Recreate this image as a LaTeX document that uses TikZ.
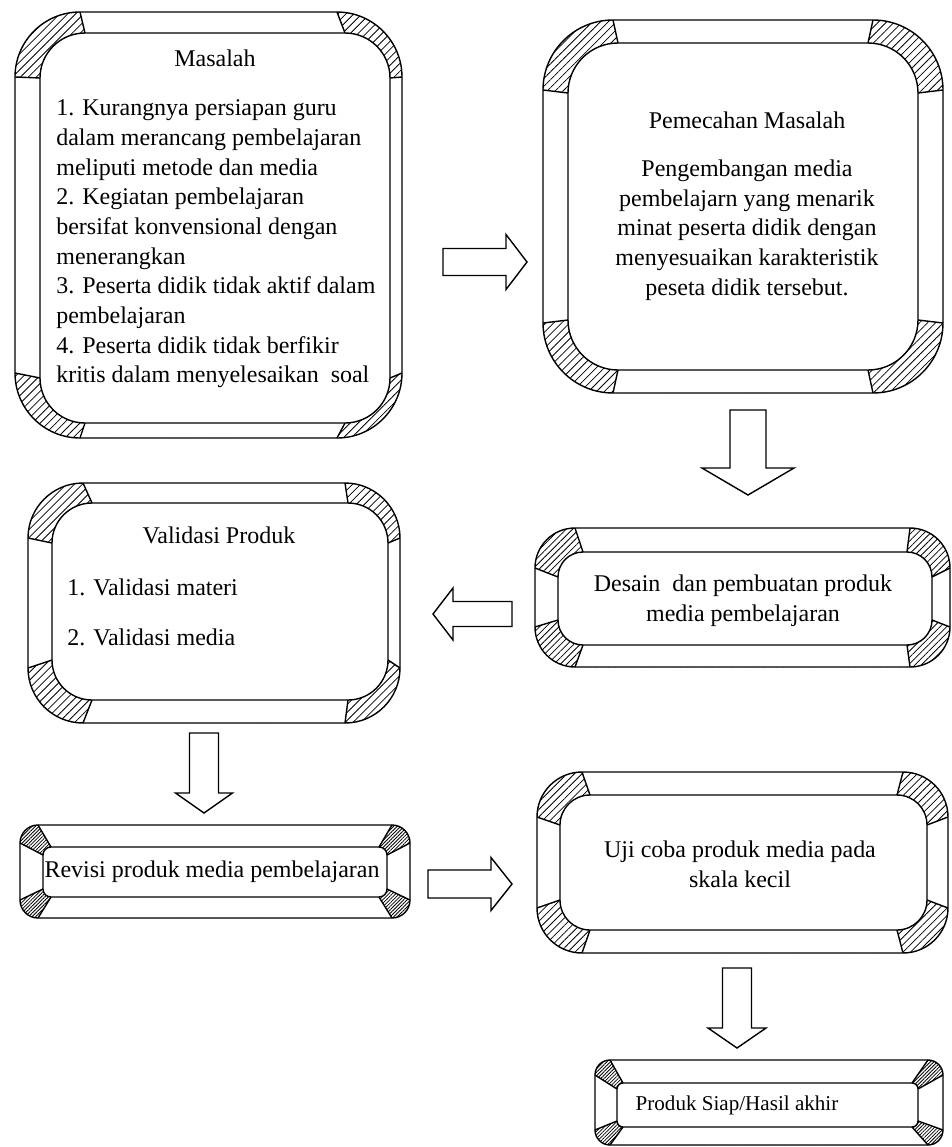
\documentclass[tikz,border=0pt]{standalone}
\usepackage{fontspec}
\setmainfont{Liberation Serif}
\usetikzlibrary{calc}
\usetikzlibrary{backgrounds}
\usetikzlibrary{patterns.meta}

\newcommand{\px}{0.02cm}
% bevel round a face node: #1 node, #2..#5 left/top/right/bottom rim, #6 outer radius, #7 inner radius, #8 hatch distance
\newcommand{\bevel}[8]{%
  \begin{pgfonlayer}{background}
    \coordinate (#1-nw) at ($(#1.north west)+(-#2,-#3)$);
    \coordinate (#1-se) at ($(#1.south east)+(#4,#5)$);
    \coordinate (#1-ne) at (#1-se |- #1-nw);
    \coordinate (#1-sw) at (#1-nw |- #1-se);
    \fill[pattern={Lines[angle=45,distance=#8,line width=0.45pt]}, rounded corners=#6*\px] (#1-nw) rectangle (#1-se);
    \fill[white] ($(#1-nw)+(#6,0)$) -- ($(#1-ne)+(-#6,0)$) -- ($(#1.north east)+(-#7,0)$) -- ($(#1.north west)+(#7,0)$) -- cycle
      ($(#1-ne)+(0,#6)$) -- ($(#1-se)+(0,-#6)$) -- ($(#1.south east)+(0,-#7)$) -- ($(#1.north east)+(0,#7)$) -- cycle
      ($(#1-se)+(-#6,0)$) -- ($(#1-sw)+(#6,0)$) -- ($(#1.south west)+(#7,0)$) -- ($(#1.south east)+(-#7,0)$) -- cycle
      ($(#1-sw)+(0,-#6)$) -- ($(#1-nw)+(0,#6)$) -- ($(#1.north west)+(0,#7)$) -- ($(#1.south west)+(0,-#7)$) -- cycle;
    \fill[white, rounded corners=#7*\px] (#1.north west) rectangle (#1.south east);
    \draw[bevelline] ($(#1-nw)+(#6,0)$) -- ($(#1.north west)+(#7,0)$)
      ($(#1-ne)+(-#6,0)$) -- ($(#1.north east)+(-#7,0)$)
      ($(#1-ne)+(0,#6)$) -- ($(#1.north east)+(0,#7)$)
      ($(#1-se)+(0,-#6)$) -- ($(#1.south east)+(0,-#7)$)
      ($(#1-se)+(-#6,0)$) -- ($(#1.south east)+(-#7,0)$)
      ($(#1-sw)+(#6,0)$) -- ($(#1.south west)+(#7,0)$)
      ($(#1-sw)+(0,-#6)$) -- ($(#1.south west)+(0,-#7)$)
      ($(#1-nw)+(0,#6)$) -- ($(#1.north west)+(0,#7)$);
    \draw[bevelline, rounded corners=#6*\px] (#1-nw) rectangle (#1-se);
  \end{pgfonlayer}}
% hollow block arrow: #1,#2 tail, #3 angle, #4 length, #5 shaft, #6 head width, #7 head length
\newcommand{\blockarrow}[7]{%
  \draw[blockarr, shift={(#1,#2)}, rotate=#3] (0,-#5/2) -- ({#4-#7},-#5/2) -- ({#4-#7},-#6/2)
    -- (#4,0) -- ({#4-#7},#6/2) -- ({#4-#7},#5/2) -- (0,#5/2) -- cycle;}

\tikzset{
  bevelline/.style={line width=0.8pt},
  bevelface/.style={draw, line width=0.8pt, outer sep=0pt, inner sep=0pt, rounded corners=#1*\px},
  blockarr/.style={draw, fill=white, line width=0.8pt, line join=miter},
  txt/.style={inner sep=0pt, font=\fontsize{13.65}{16.9}\selectfont},
  lst/.style={txt, align=left, anchor=west},
  ctr/.style={txt, align=center}
}

\begin{document}
\begin{tikzpicture}[x=\px, y=-\px]
\useasboundingbox (0,0) rectangle (951,1147);

% faces
\node[bevelface=45, minimum width=350*\px, minimum height=390*\px] (masalah) at (215,228) {};
\node[bevelface=50, minimum width=350*\px, minimum height=327*\px] (pemecahan) at (743,206.5) {};
\node[bevelface=40, minimum width=336*\px, minimum height=197*\px] (validasi) at (220,601.5) {};
\node[bevelface=25, minimum width=374*\px, minimum height=93*\px] (desain) at (745,598.5) {};
\node[bevelface=8, minimum width=344*\px, minimum height=50*\px] (revisi) at (215,872) {};
\node[bevelface=30, minimum width=367*\px, minimum height=135*\px] (ujicoba) at (743.5,862.5) {};
\node[bevelface=6, minimum width=301*\px, minimum height=44*\px] (produk) at (767.5,1105) {};

\bevel{masalah}{25}{21}{12}{15}{65}{45}{3.2pt}
\bevel{pemecahan}{25}{23}{25}{23}{70}{50}{3.2pt}
\bevel{validasi}{24}{20}{12}{23}{55}{40}{3.2pt}
\bevel{desain}{23}{24}{18}{22}{40}{25}{2.6pt}
\bevel{revisi}{23}{22}{23}{21}{18}{8}{1.4pt}
\bevel{ujicoba}{23}{23}{21}{23}{45}{30}{3pt}
\bevel{produk}{22}{23}{25}{18}{15}{6}{1.4pt}

% texts
\node[ctr] (masalahtitle) at (215,58) {Masalah};
\node[lst] (masalahlist) at (56,244) {1. Kurangnya persiapan guru\\
dalam merancang pembelajaran\\
meliputi metode dan media\\
2. Kegiatan pembelajaran\\
bersifat konvensional dengan\\
menerangkan\\
3. Peserta didik tidak aktif dalam\\
pembelajaran\\
4. Peserta didik tidak berfikir\\
kritis dalam menyelesaikan\ \ soal};
\node[ctr] (pemecahantitle) at (747,120) {Pemecahan Masalah};
\node[ctr] (pemecahanbody) at (747,230) {Pengembangan media\\
pembelajarn yang menarik\\
minat peserta didik dengan\\
menyesuaikan karakteristik\\
peseta didik tersebut.};
\node[ctr] (validasititle) at (219,535) {Validasi Produk};
\node[lst] (validasimateri) at (67,587) {1. Validasi materi};
\node[lst] (validasimedia) at (67,637) {2. Validasi media};
\node[ctr] (desaintext) at (743,601) {Desain\ \ dan pembuatan produk\\media pembelajaran};
\node[ctr] (revisitext) at (212,872) {Revisi produk media pembelajaran};
\node[ctr] (ujicobatext) at (740,864) {Uji coba produk media pada\\skala kecil};
\node[ctr, font=\fontsize{12}{14}\selectfont] (produktext) at (737,1105) {Produk Siap/Hasil akhir};

% arrows
\blockarrow{443}{262}{0}{84}{27}{55}{21}
\blockarrow{748}{410}{-90}{85}{36}{92}{27}
\blockarrow{512}{614}{180}{79}{25}{52}{20}
\blockarrow{204}{733}{-90}{80}{29}{57}{20}
\blockarrow{428}{884}{0}{84}{28}{53}{21}
\blockarrow{737}{968}{-90}{80}{29}{58}{20}
\end{tikzpicture}
\end{document}
